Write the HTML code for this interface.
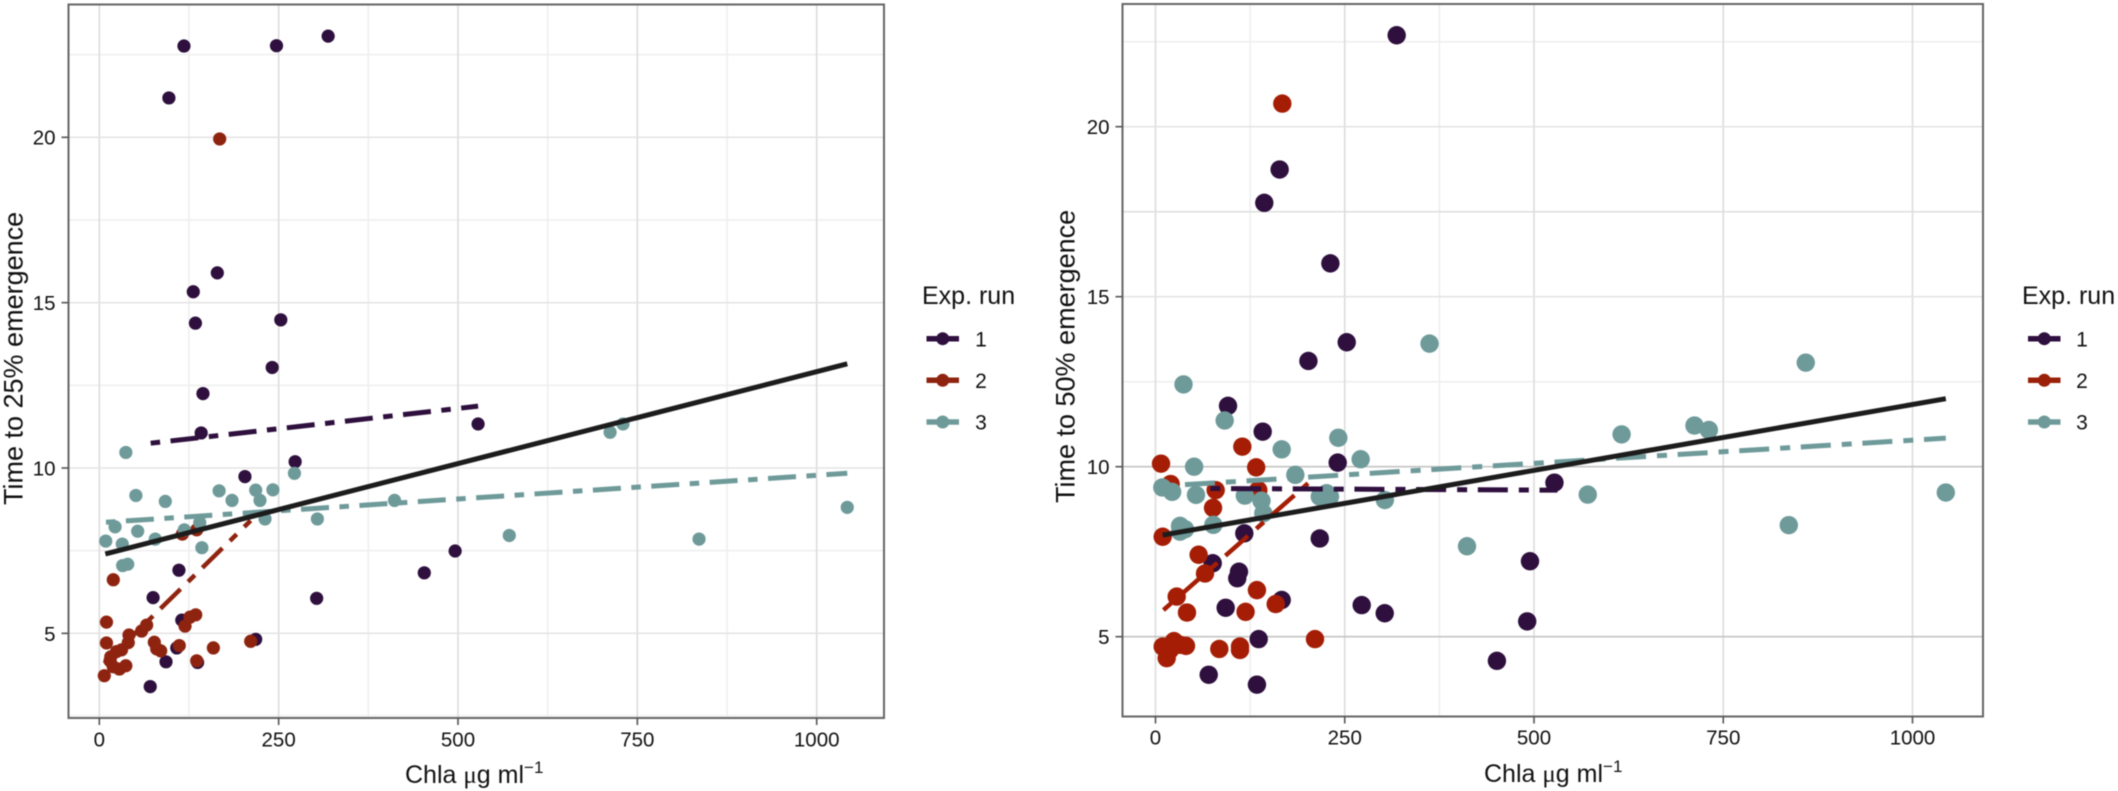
<!DOCTYPE html>
<html lang="en">
<head>
<meta charset="utf-8">
<title>Time to emergence vs Chla</title>
<style>
html,body{margin:0;padding:0;background:#fff;width:2118px;height:791px;overflow:hidden}
svg{display:block;font-family:"Liberation Sans",Arial,sans-serif;fill:#111;filter:blur(0.45px)}
</style>
</head>
<body>
<svg id="figure" xmlns="http://www.w3.org/2000/svg" width="2118" height="791" viewBox="0 0 2118 791">
  <rect x="0" y="0" width="2118" height="791" fill="#fff"/>
  <g id="left-panel"></g>
  <g id="right-panel"></g>

  <text transform="translate(22.5,505) rotate(-90)" font-size="27">Time to 25% emergence</text>
  <text transform="translate(1074.5,503) rotate(-90)" font-size="27">Time to 50% emergence</text>
  <text x="405" y="783" font-size="25">Chla <tspan font-family="'Liberation Serif',serif">μ</tspan>g ml<tspan font-size="17" dy="-10">−1</tspan></text>
  <text x="1484" y="782" font-size="25">Chla <tspan font-family="'Liberation Serif',serif">μ</tspan>g ml<tspan font-size="17" dy="-10">−1</tspan></text>

  <g>
    <text x="922" y="304" font-size="25">Exp. run</text>
    <g><line x1="926.5" x2="959" y1="338.7" y2="338.7" stroke="#2e0f3d" stroke-width="5.5"/><circle cx="942.7" cy="338.7" r="6.5" fill="#2e0f3d"/><text x="981" y="346.5" font-size="21" text-anchor="middle">1</text></g>
    <g><line x1="926.5" x2="959" y1="380.3" y2="380.3" stroke="#8e2410" stroke-width="5.5"/><circle cx="942.7" cy="380.3" r="6.5" fill="#8e2410"/><text x="981" y="388" font-size="21" text-anchor="middle">2</text></g>
    <g><line x1="926.5" x2="959" y1="422" y2="422" stroke="#6f9a9a" stroke-width="5.5"/><circle cx="942.7" cy="422" r="6.5" fill="#6f9a9a"/><text x="981" y="429.7" font-size="21" text-anchor="middle">3</text></g>
  </g>
  <g>
    <text x="2022" y="304" font-size="25">Exp. run</text>
    <g><line x1="2028" x2="2060.5" y1="338.7" y2="338.7" stroke="#2e0f3d" stroke-width="5.5"/><circle cx="2044.3" cy="338.7" r="6.5" fill="#2e0f3d"/><text x="2082" y="346.5" font-size="21" text-anchor="middle">1</text></g>
    <g><line x1="2028" x2="2060.5" y1="380.3" y2="380.3" stroke="#9a2008" stroke-width="5.5"/><circle cx="2044.3" cy="380.3" r="6.5" fill="#9a2008"/><text x="2082" y="388" font-size="21" text-anchor="middle">2</text></g>
    <g><line x1="2028" x2="2060.5" y1="422" y2="422" stroke="#6f9a9a" stroke-width="5.5"/><circle cx="2044.3" cy="422" r="6.5" fill="#6f9a9a"/><text x="2082" y="429.7" font-size="21" text-anchor="middle">3</text></g>
  </g>
</svg>
<script>
// ---- tick labels ----
const xTickLabels = [0, 250, 500, 750, 1000];
const yTickLabels = [5, 10, 15, 20];
const leftMinorX = [125, 375, 625, 875];
const leftMinorY = [2.5, 7.5, 12.5, 17.5, 22.5];
const rightMinorX = [125, 375];
const rightMinorY = [12.5, 17.5, 22.5];

// ---- Time to 25% emergence ----
const t25Run1X = [118,247,319,97,164.5,131,134,253,241,144.5,142,273,203,111,75,303,453,115,218,108,93,137,71,528,496];
const t25Run1Y = [22.76,22.77,23.06,21.19,15.9,15.33,14.38,14.48,13.04,12.25,11.06,10.19,9.74,6.91,6.08,6.06,6.83,5.4,4.82,4.56,4.14,4.12,3.39,11.33,7.49];
const t25Run2X = [19.5,10,10,66,59,41.4,40.4,31,24,16,15,37,28,19.5,7,76.7,80,85.6,111.5,119.5,126.4,134.4,135.8,159,211,115.7,135.8,167.8];
const t25Run2Y = [6.62,5.34,4.71,5.25,5.07,4.95,4.72,4.5,4.45,4.29,4.17,4.02,3.92,3.99,3.72,4.73,4.53,4.47,4.63,5.22,5.49,5.56,4.17,4.56,4.76,8.0,8.13,19.95];
const t25Run3X = [37,51,92,167,185,218,224,242,272,304,231,140,118.5,143,78,53.5,22,9,32,32.5,39.6,712,730,571.5,836,1042.6,411.5];
const t25Run3Y = [10.47,9.17,8.99,9.31,9.02,9.33,9.02,9.34,9.84,8.46,8.46,8.35,8.13,7.59,7.85,8.09,8.22,7.79,7.7,7.05,7.09,11.08,11.33,7.96,7.85,8.81,9.02];
const t25FitAllX = [8.4, 1042.6];
const t25FitAllY = [7.4, 13.15];
const t25FitRun1X = [71.6, 528];
const t25FitRun1Y = [10.75, 11.87];
const t25FitRun2X = [7, 211];
const t25FitRun2Y = [4.09, 8.41];
const t25FitRun3X = [9.3, 1042.6];
const t25FitRun3Y = [8.36, 9.84];

// ---- Time to 50% emergence ----
const t50Run1X = [318.6,164,143.7,231,252.6,202,95.8,141.6,240.7,117.3,217,75.6,110.3,108,166.7,92.7,272.4,302.8,136.3,70.3,134,527,494.7,491,451];
const t50Run1Y = [22.69,18.74,17.76,15.98,13.66,13.11,11.79,11.03,10.12,8.04,7.89,7.16,6.91,6.72,6.08,5.85,5.93,5.69,4.93,3.88,3.59,9.53,7.22,5.45,4.29];
const t50Run2X = [167.5,7.3,20,114.7,133,79.5,135.8,76,9.5,57,65.4,28,41.6,134,158.8,119,210.7,84.3,111.6,111.6,9.5,24.4,40.3,14.8,19,32.4];
const t50Run2Y = [20.68,10.09,9.49,10.59,9.98,9.31,9.31,8.79,7.94,7.41,6.86,6.18,5.71,6.37,5.96,5.73,4.93,4.64,4.71,4.61,4.71,4.87,4.73,4.37,4.61,4.76];
const t50Run3X = [37,91.4,166.7,51,241.5,271,184.7,9,22,53.5,118,140,142.4,217,230.5,226,303,32.4,39,32.4,76.4,362,615.7,712,731,859,571,836.6,1044,411.5];
const t50Run3Y = [12.42,11.36,10.51,10.0,10.85,10.22,9.76,9.39,9.26,9.17,9.15,9.0,8.63,9.12,9.12,9.22,9.02,8.26,8.16,8.09,8.29,13.62,10.95,11.21,11.08,13.06,9.18,8.28,9.24,7.66];
const t50FitAllX = [9.5, 1044];
const t50FitAllY = [7.99, 12.0];
const t50FitRun1X = [69.4, 531];
const t50FitRun1Y = [9.36, 9.31];
const t50FitRun2X = [8.2, 201.5];
const t50FitRun2Y = [5.74, 9.51];
const t50FitRun3X = [8.6, 1044];
const t50FitRun3Y = [9.43, 10.84];

const SVGNS = 'http://www.w3.org/2000/svg';
function mk(parent, tag, attrs, name) {
  const el = document.createElementNS(SVGNS, tag);
  for (const k in attrs) el.setAttribute(k, attrs[k]);
  
  
  parent.appendChild(el);
  return el;
}

function drawPanel(cfg) {
  const g = document.getElementById(cfg.id);
  const X = v => cfg.x0 + cfg.xScale * v;
  const Y = v => cfg.y10 - cfg.yScale * (v - 10);
  const b = cfg.box;

  // minor grid
  cfg.minorX.forEach(v => {
    mk(g, 'line', {x1:X(v), x2:X(v), y1:b.top, y2:b.bottom, stroke:'#eeeeee', 'stroke-width':1.5}, 'minor-gridline-x-' + v);
  });
  cfg.minorY.forEach(v => {
    mk(g, 'line', {x1:b.left, x2:b.right, y1:Y(v), y2:Y(v), stroke: v === 17.5 && cfg.id === 'right-panel' ? '#dedede' : '#eeeeee', 'stroke-width':1.5}, 'minor-gridline-y-' + v);
  });
  // major grid
  xTickLabels.forEach(v => {
    mk(g, 'line', {x1:X(v), x2:X(v), y1:b.top, y2:b.bottom, stroke:'#dcdcdc', 'stroke-width':1.6}, 'major-gridline-x-' + v);
  });
  yTickLabels.forEach(v => {
    const dark = cfg.id === 'right-panel' && v <= 10;
    mk(g, 'line', {x1:b.left, x2:b.right, y1:Y(v), y2:Y(v), stroke: dark ? '#c4c4c4' : '#e4e4e4', 'stroke-width':1.6}, 'major-gridline-y-' + v);
  });

  // points
  cfg.points.forEach(s => {
    s.xs.forEach((v, i) => {
      mk(g, 'circle', {cx:X(v), cy:Y(s.ys[i]), r:cfg.r, fill:s.color}, 'point-run-' + s.run);
    });
  });
  // fits
  cfg.fits.forEach(f => {
    const a = {x1:X(f.xs[0]), y1:Y(f.ys[0]), x2:X(f.xs[1]), y2:Y(f.ys[1]), stroke:f.color, 'stroke-width':f.w};
    if (f.dashed) {
      a['stroke-dasharray'] = cfg.dash;
      a['stroke-dashoffset'] = cfg.dashOffset;
    }
    mk(g, 'line', a, 'trend-line-' + f.label);
  });

  // frame
  mk(g, 'rect', {x:b.left, y:b.top, width:b.right - b.left, height:b.bottom - b.top, fill:'none', stroke:'#666', 'stroke-width':2}, 'panel-border');

  // ticks and labels
  xTickLabels.forEach(v => {
    mk(g, 'line', {x1:X(v), x2:X(v), y1:b.bottom, y2:b.bottom + 7, stroke:'#555', 'stroke-width':1.6}, 'x-tick-' + v);
    const t = mk(g, 'text', {x:X(v), y:cfg.xLabelY, 'font-size':20.5, 'text-anchor':'middle'}, 'x-tick-label-' + v);
    t.textContent = v;
  });
  yTickLabels.forEach(v => {
    mk(g, 'line', {x1:b.left - 7, x2:b.left, y1:Y(v), y2:Y(v), stroke:'#555', 'stroke-width':1.6}, 'y-tick-' + v);
    const t = mk(g, 'text', {x:b.left - 13, y:Y(v) + 7.4, 'font-size':20.5, 'text-anchor':'end'}, 'y-tick-label-' + v);
    t.textContent = v;
  });
}

const DARK = '#2e0f3d', TEAL = '#6f9a9a';

drawPanel({
  id:'left-panel', x0:99.3, xScale:0.7174, y10:468, yScale:33.07, r:6.6, xLabelY:746.7,
  dash:'28 10.5 9.5 10.5', dashOffset:38.5,
  box:{left:68.5, right:884, top:4.5, bottom:718},
  minorX:leftMinorX, minorY:leftMinorY,
  points:[
    {run:1, xs:t25Run1X, ys:t25Run1Y, color:DARK},
    {run:2, xs:t25Run2X, ys:t25Run2Y, color:'#8e2410'},
    {run:3, xs:t25Run3X, ys:t25Run3Y, color:TEAL}
  ],
  fits:[
    {label:'run-3', xs:t25FitRun3X, ys:t25FitRun3Y, color:TEAL, w:5, dashed:true},
    {label:'run-1', xs:t25FitRun1X, ys:t25FitRun1Y, color:DARK, w:5, dashed:true},
    {label:'run-2', xs:t25FitRun2X, ys:t25FitRun2Y, color:'#8e2410', w:4.5, dashed:true},
    {label:'overall', xs:t25FitAllX, ys:t25FitAllY, color:'#1c1c1c', w:5, dashed:false}
  ]
});

drawPanel({
  id:'right-panel', x0:1155.5, xScale:0.757, y10:466.7, yScale:34, r:9.2, xLabelY:744.5,
  dash:'30 11 10 10.7', dashOffset:38.7,
  box:{left:1122.5, right:1983, top:4, bottom:716.5},
  minorX:rightMinorX, minorY:rightMinorY,
  points:[
    {run:1, xs:t50Run1X, ys:t50Run1Y, color:DARK},
    {run:2, xs:t50Run2X, ys:t50Run2Y, color:'#a51d05'},
    {run:3, xs:t50Run3X, ys:t50Run3Y, color:TEAL}
  ],
  fits:[
    {label:'run-3', xs:t50FitRun3X, ys:t50FitRun3Y, color:TEAL, w:5, dashed:true},
    {label:'run-2', xs:t50FitRun2X, ys:t50FitRun2Y, color:'#a51d05', w:4.5, dashed:true},
    {label:'run-1', xs:t50FitRun1X, ys:t50FitRun1Y, color:DARK, w:5, dashed:true},
    {label:'overall', xs:t50FitAllX, ys:t50FitAllY, color:'#1c1c1c', w:5, dashed:false}
  ]
});
</script>
</body>
</html>
